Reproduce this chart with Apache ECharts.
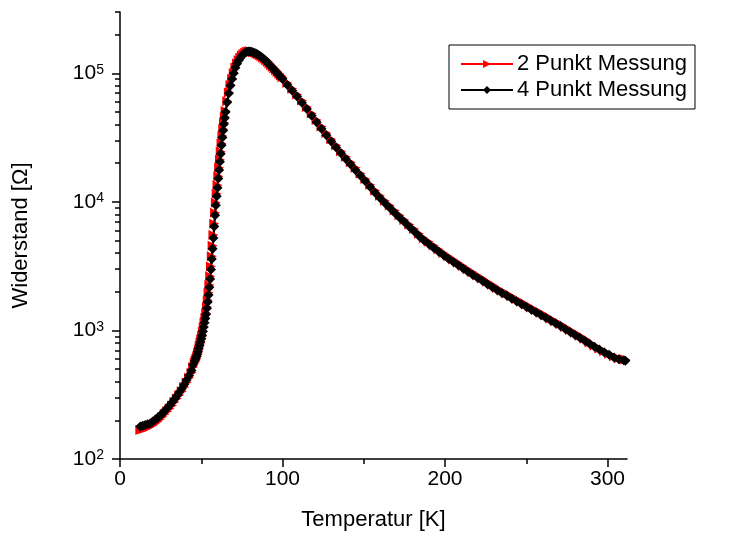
<!DOCTYPE html>
<html>
<head>
<meta charset="utf-8">
<script src="https://cdn.jsdelivr.net/npm/echarts@6/dist/echarts.min.js"></script>
<style>
  html, body { margin: 0; padding: 0; background: #fff; }
  #chart { width: 729px; height: 540px; }
</style>
</head>
<body>
<div id="chart"></div>
<script>
// Temperature sweep [K]
const temperature = [
  12.5, 14, 15.5, 17, 18.5, 20, 21.5, 23, 24.5, 26, 27.5, 29, 30.5, 32, 33.5, 35, 36.5, 38, 39.5, 41, 42.5, 44, 45,
  46, 46.5, 47, 47.5, 48, 48.5, 49, 49.5, 50, 50.5, 51, 51.5, 52, 52.5, 53, 53.5, 54, 54.5, 55, 55.5, 56, 56.5,
  57, 57.5, 58, 58.5, 59, 59.5, 60, 60.5, 61, 61.5, 62, 62.5, 63, 63.5, 64, 64.5, 65,
  66, 67, 68, 69, 70, 71, 72, 73, 74, 75, 76, 77, 78, 79, 80, 81, 82, 83, 84, 85, 86, 87, 88, 89, 90,
  91, 92, 93, 94, 95, 96, 97, 98, 99, 100,
  103, 106, 109, 112, 115, 118, 121, 124, 127, 130, 133, 136, 139, 142, 145, 148, 151, 154, 157, 160,
  163, 166, 169, 172, 175, 178, 181, 184, 187, 190, 193, 196, 199, 202, 205, 208, 211, 214, 217, 220,
  223, 226, 229, 232, 235, 238, 241, 244, 247, 250, 253, 256, 259, 262, 265, 268, 271, 274, 277, 280,
  283, 286, 289, 292, 295, 298, 301, 304, 307, 310, 311
];

// Two-point (2-wire) resistance [Ohm]
const resistance2Point = [
  168, 170, 173, 175, 178, 183, 189, 196, 204, 213, 224, 235, 247, 261, 277, 295, 314, 336, 363, 393, 428, 468, 520,
  558, 580, 603, 629, 667, 709, 753, 800, 850, 905, 975, 1055, 1146, 1245, 1360, 1525, 1720, 1960, 2260, 2640, 3140, 3780,
  4550, 5530, 6760, 8250, 9850, 11550, 13450, 15800, 18400, 21250, 24500, 28400, 32600, 36800, 41200, 45800, 51000,
  60600, 70800, 81100, 90800, 100500, 110900, 119300, 126300, 132200, 137500, 141700, 144900, 147300, 148300, 148400,
  147500, 146200, 145000, 142900, 140800, 138200, 135600, 133000, 129600, 126400,
  122900, 119200, 115700, 112400, 109000, 105700, 102500, 99300, 96300, 93100,
  84100, 75800, 68400, 61500, 54800, 48700, 43300, 38600, 34400, 30700, 27600, 24800, 22400, 20300, 18400, 16650,
  15050, 13570, 12290, 11160,
  10210, 9360, 8570, 7870, 7240, 6670, 6140, 5650, 5220, 4890, 4570, 4280, 4010, 3780, 3560, 3360, 3170, 2990, 2830, 2670,
  2530, 2390, 2265, 2140, 2035, 1940, 1845, 1755, 1670, 1590, 1510, 1440, 1370, 1305, 1240, 1180, 1122, 1065, 1010, 958,
  910, 863, 805, 763, 725, 690, 659, 629, 608, 597, 593
];

// Four-point (4-wire) resistance [Ohm]
const resistance4Point = [
  179, 181, 184, 186, 189, 195, 201, 208, 216, 225, 237, 248, 261, 275, 292, 310, 330, 352, 380, 411, 447, 488, 541,
  579, 601, 624, 649, 687, 728, 771, 817, 865, 918, 986, 1062, 1146, 1236, 1337, 1486, 1667, 1884, 2163, 2512, 2985, 3589,
  4315, 5248, 6427, 7870, 9397, 11040, 12880, 15170, 17700, 20510, 23710, 27540, 31700, 35890, 40270, 44870, 50120,
  59700, 69980, 80350, 90160, 100000, 110400, 118900, 125900, 131800, 137100, 141300, 144500, 146900, 147900, 147900,
  146900, 145500, 144200, 141900, 139600, 136800, 134000, 131200, 127600, 124200,
  120500, 116700, 113000, 109600, 106200, 102800, 99540, 96380, 93330, 90160,
  81280, 73110, 65920, 59160, 52720, 46770, 41590, 37070, 33040, 29510, 26550, 23880, 21530, 19500, 17660, 16000,
  14450, 13030, 11800, 10720,
  9817, 8995, 8241, 7568, 6966, 6412, 5902, 5433, 5023, 4699, 4395, 4111, 3855, 3631, 3420, 3228, 3048, 2871, 2716, 2570,
  2432, 2301, 2178, 2061, 1959, 1866, 1774, 1690, 1607, 1531, 1455, 1387, 1318, 1256, 1194, 1138, 1081, 1026, 973, 923,
  877, 832, 789, 748, 711, 676, 646, 617, 598, 586, 582
];

// Axis ticks
const xMajorTicks = [0, 100, 200, 300];
const xMinorTicks = [50, 150, 250];
const yMajorTicks = [100, 1000, 10000, 100000];
const yMinorTicks = [200, 300, 400, 500, 600, 700, 800, 900,
  2000, 3000, 4000, 5000, 6000, 7000, 8000, 9000,
  20000, 30000, 40000, 50000, 60000, 70000, 80000, 90000,
  200000, 300000];

const seriesNames = ['2 Punkt Messung', '4 Punkt Messung'];

const FONT = 'Liberation Sans, Arial, sans-serif';
const X_MIN = 0, X_MAX = 312, Y_MIN = 100, Y_MAX = 300000;

const chart = echarts.init(document.getElementById('chart'), null, { renderer: 'canvas' });

const pair = (vals) => temperature.map((t, i) => [t, vals[i]]);

chart.setOption({
  animation: false,
  backgroundColor: '#fff',
  grid: { left: 120, right: 102, top: 12, bottom: 81, containLabel: false },
  legend: {
    orient: 'vertical',
    left: 449,
    top: 45,
    data: seriesNames,
    borderColor: '#000',
    borderWidth: 1,
    borderRadius: 0,
    padding: [8, 8, 8, 11],
    itemGap: 4,
    itemWidth: 52,
    itemHeight: 10,
    textStyle: { fontFamily: FONT, fontSize: 22, color: '#000', padding: [0, 0, 0, -1] }
  },
  xAxis: [
    {
      type: 'value', min: X_MIN, max: X_MAX,
      name: 'Temperatur [K]', nameLocation: 'middle', nameGap: 50,
      nameTextStyle: { fontFamily: FONT, fontSize: 22, color: '#000' },
      axisLine: { show: true, onZero: false, lineStyle: { color: '#000', width: 1.5 } },
      axisTick: { show: true, inside: false, length: 8, customValues: xMajorTicks, lineStyle: { color: '#000', width: 1.5 } },
      axisLabel: { customValues: xMajorTicks, margin: 10, fontFamily: FONT, fontSize: 21, color: '#000' },
      splitLine: { show: false }
    },
    {
      type: 'value', min: X_MIN, max: X_MAX, position: 'bottom',
      axisLine: { show: false },
      axisTick: { show: true, inside: false, length: 5, customValues: xMinorTicks, lineStyle: { color: '#000', width: 1.5 } },
      axisLabel: { show: false },
      splitLine: { show: false }
    }
  ],
  yAxis: [
    {
      type: 'log', logBase: 10, min: Y_MIN, max: Y_MAX,
      name: 'Widerstand [Ω]', nameLocation: 'middle', nameGap: 88,
      nameTextStyle: { fontFamily: FONT, fontSize: 22, color: '#000' },
      axisLine: { show: true, onZero: false, lineStyle: { color: '#000', width: 1.5 } },
      axisTick: { show: true, inside: false, length: 8, customValues: yMajorTicks, lineStyle: { color: '#000', width: 1.5 } },
      axisLabel: {
        customValues: yMajorTicks, margin: 16,
        formatter: (v) => '{b|10}{s|' + Math.round(Math.log10(v)) + '}',
        rich: {
          b: { fontFamily: FONT, fontSize: 21, color: '#000', lineHeight: 21 },
          s: { fontFamily: FONT, fontSize: 14, color: '#000', lineHeight: 14, verticalAlign: 'top' }
        }
      },
      splitLine: { show: false }
    },
    {
      type: 'log', logBase: 10, min: Y_MIN, max: Y_MAX, position: 'left',
      axisLine: { show: false },
      axisTick: { show: true, inside: false, length: 5, customValues: yMinorTicks, lineStyle: { color: '#000', width: 1.5 } },
      axisLabel: { show: false },
      splitLine: { show: false }
    }
  ],
  series: [
    {
      name: seriesNames[0], type: 'line',
      xAxisIndex: 0, yAxisIndex: 0,
      data: pair(resistance2Point),
      symbol: 'triangle', symbolRotate: -90, symbolSize: 10, showAllSymbol: true,
      lineStyle: { color: '#ff0000', width: 2 },
      itemStyle: { color: '#ff0000' },
      emphasis: { disabled: true }
    },
    {
      name: seriesNames[1], type: 'line',
      xAxisIndex: 0, yAxisIndex: 0,
      data: pair(resistance4Point),
      symbol: 'diamond', symbolSize: 10, showAllSymbol: true,
      lineStyle: { color: '#000000', width: 2 },
      itemStyle: { color: '#000000' },
      emphasis: { disabled: true }
    }
  ]
});
</script>
</body>
</html>
